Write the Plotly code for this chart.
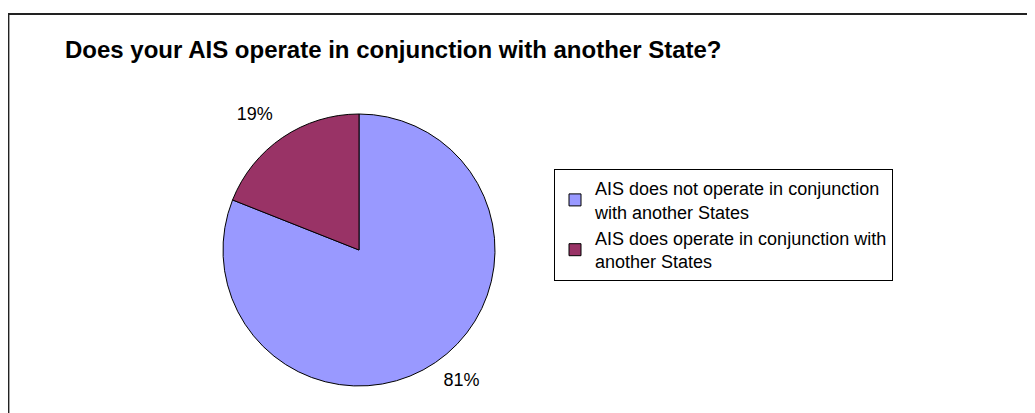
import plotly.graph_objects as go

W, H = 1035, 413
OFF = 8  # page body margin in the browser

labels = ["AIS does not operate in conjunction<br>with another States",
          "AIS does operate in conjunction with<br>another States"]
values = [81, 19]
colors = ["#9999FF", "#993366"]
title_text = "Does your AIS operate in conjunction with another State?"

cx, cy, r = 359 - OFF, 250 - OFF, 136

# small invisible spacer lines push the outside labels a bit further from the pie
spacer = "<span style='font-size:6px;color:white'>\u00a0</span>"
spacer_small = "<span style='font-size:1px;color:white'>\u00a0</span>"
templates = [spacer + "<br>%{percent:.0%}", "%{percent:.0%}<br>" + spacer_small]


def px(x):
    return x / W


def py(y):
    return 1 - y / H


fig = go.Figure(go.Pie(
    labels=labels,
    values=values,
    sort=False,
    direction="clockwise",
    rotation=0,
    marker=dict(colors=colors, line=dict(color="black", width=1)),
    textinfo="percent",
    texttemplate=templates,
    textposition="outside",
    textfont=dict(family="Liberation Sans, Arial, sans-serif", size=18, color="black"),
    domain=dict(x=[px(cx - r), px(cx + r)], y=[py(cy + r), py(cy - r)]),
    automargin=False,
    hoverinfo="label+percent",
))

fig.update_layout(
    width=W, height=H,
    margin=dict(l=0, r=0, t=0, b=0),
    paper_bgcolor="white",
    plot_bgcolor="white",
    font=dict(family="Liberation Sans, Arial, sans-serif", color="black"),
    title=dict(text="<b>" + title_text + "</b>", x=px(65 - OFF), xanchor="left", xref="paper",
               y=py(50 - OFF), yanchor="middle", yref="container",
               font=dict(family="Liberation Sans, Arial, sans-serif", size=24, color="black")),
    legend=dict(x=px(554 - OFF), y=py(169 - OFF), xanchor="left", yanchor="top",
                bordercolor="black", borderwidth=1, bgcolor="white",
                font=dict(family="Liberation Sans, Arial, sans-serif", size=18, color="black")),
    shapes=[dict(type="rect", xref="paper", yref="paper",
                 x0=px(8.5 - OFF), x1=1.05, y0=-0.05, y1=py(14 - OFF),
                 line=dict(color="#222222", width=1.8), fillcolor="rgba(0,0,0,0)", layer="below")],
)

fig.write_html("out.html")
